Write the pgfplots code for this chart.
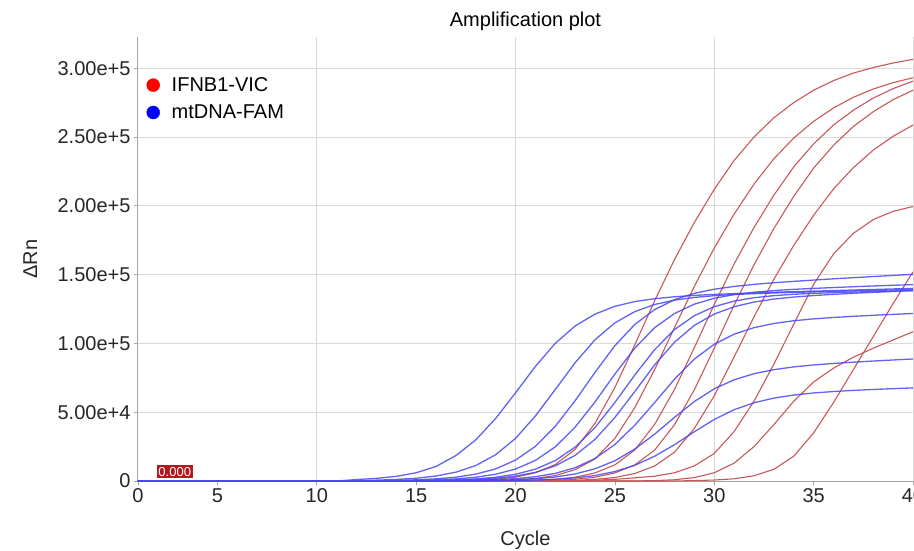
\documentclass[border=0pt]{standalone}
\usepackage{fontspec}
\setmainfont{Liberation Sans}
\usepackage{pgfplots}
\pgfplotsset{compat=1.18}
\definecolor{vicline}{RGB}{200,88,88}
\definecolor{famline}{RGB}{70,70,245}
\definecolor{gridgray}{RGB}{217,217,217}
\definecolor{axisgray}{RGB}{165,165,165}
\definecolor{thrred}{RGB}{178,24,30}
\newcommand{\chartfont}{\fontsize{20}{24}\selectfont}

\begin{document}
\begin{tikzpicture}
\path[use as bounding box] (0,0) rectangle (914pt,550pt);
\begin{axis}[
  at={(138pt,69pt)}, anchor=south west,
  scale only axis, width=775pt, height=444pt,
  xmin=1, xmax=40, ymin=0, ymax=322700,
  axis lines*=left,
  axis line style={-, axisgray, line width=1pt},
  tick align=outside, major tick length=4pt,
  tick style={axisgray, line width=0.8pt},
  xtick={1,5,10,15,20,25,30,35,40},
  xticklabels={0,5,10,15,20,25,30,35,40},
  extra x ticks={10,20,30,40},
  extra x tick labels={},
  extra x tick style={grid=major},
  ytick={0,50000,100000,150000,200000,250000,300000},
  yticklabels={0,5.00e+4,1.00e+5,1.50e+5,2.00e+5,2.50e+5,3.00e+5},
  scaled y ticks=false,
  ymajorgrids=true,
  grid style={gridgray, line width=1pt},
  xticklabel style={font=\chartfont, text=black!85},
  yticklabel style={font=\chartfont, text=black!85},
  title={Amplification plot},
  title style={at={(axis description cs:0.5,1.038)}, anchor=center, yshift=-7pt, font=\chartfont},
  xlabel={Cycle},
  xlabel style={at={(axis description cs:0.5,-0.133)}, anchor=center, font=\chartfont, text=black!85},
  ylabel={ΔRn},
  ylabel style={at={(axis description cs:-0.139,0.5)}, anchor=center, font=\chartfont, text=black!85},
  legend style={at={(axis description cs:0.011,0.914)}, anchor=north west,
    draw=none, fill=none, inner sep=0pt, row sep=8pt, font=\chartfont,
    /tikz/every odd column/.append style={column sep=10pt}},
  legend cell align=left,
  vic/.style={vicline, line width=1.1pt, line join=round, forget plot},
  fam/.style={famline, opacity=0.85, line width=1.3pt, line join=round, forget plot},
]
\addlegendimage{only marks, mark=*, mark size=6.5pt, color=red}
\addlegendimage{only marks, mark=*, mark size=6.5pt, color=blue}
\legend{IFNB1-VIC, mtDNA-FAM}

% IFNB1-VIC
\addplot[vic] coordinates {(1,0)(17,0)(18,600)(19,1300)(20,2800)(21,6000)(22,12000)(23,23000)(24,42000)(25,68000)(26,99000)(27,131000)(28,161000)(29,188000)(30,212000)(31,233000)(32,250000)(33,264000)(34,275000)(35,284000)(36,291000)(37,296500)(38,300500)(39,303800)(40,306500)};
\addplot[vic] coordinates {(1,0)(18,0)(19,410)(20,860)(21,1850)(22,3980)(23,8250)(24,16100)(25,31000)(26,53350)(27,81000)(28,111550)(29,141600)(30,169300)(31,194000)(32,215800)(33,234250)(34,249300)(35,261400)(36,271100)(37,278900)(38,284900)(39,289500)(40,293100)};
\addplot[vic] coordinates {(1,0)(20,0)(21,590)(22,1270)(23,2740)(24,5880)(25,11760)(26,22540)(27,41160)(28,66640)(29,97020)(30,128380)(31,157780)(32,184240)(33,207760)(34,228340)(35,245000)(36,258720)(37,269500)(38,278320)(39,285180)(40,290570)};
\addplot[vic] coordinates {(1,0)(21,0)(22,590)(23,1270)(24,2730)(25,5860)(26,11710)(27,22450)(28,40990)(29,66370)(30,96620)(31,127860)(32,157140)(33,183490)(34,206910)(35,227410)(36,244000)(37,257660)(38,268400)(39,277180)(40,284020)};
\addplot[vic] coordinates {(1,0)(22,0)(23,550)(24,1180)(25,2550)(26,5470)(27,10930)(28,20950)(29,38260)(30,61950)(31,90190)(32,119340)(33,146670)(34,171270)(35,193130)(36,212260)(37,227750)(38,240500)(39,250530)(40,258720)};
\addplot[vic] coordinates {(1,0)(23,0)(24,600)(25,1200)(26,2300)(27,3500)(28,6000)(29,11000)(30,20000)(31,36000)(32,58000)(33,85000)(34,114000)(35,143000)(36,165000)(37,180000)(38,190000)(39,196000)(40,199500)};
\addplot[vic] coordinates {(1,0)(28,0)(29,300)(30,700)(31,1600)(32,3800)(33,8500)(34,18000)(35,35000)(36,57000)(37,81000)(38,105000)(39,129000)(40,152000)};
\addplot[vic] coordinates {(1,0)(26,0)(27,300)(28,900)(29,2500)(30,6000)(31,13000)(32,25000)(33,41000)(34,58000)(35,72000)(36,82000)(37,90000)(38,96500)(39,102500)(40,108500)};

% mtDNA-FAM
\addplot[fam] coordinates {(1,0)(11,0)(12,1050)(13,1900)(14,3400)(15,6000)(16,10600)(17,18500)(18,29900)(19,45500)(20,64100)(21,83300)(22,100100)(23,112700)(24,121300)(25,127000)(26,130400)(27,132500)(28,133900)(29,134900)(30,135600)(31,136200)(32,136700)(33,137200)(34,137600)(35,138000)(36,138400)(37,138800)(38,139200)(39,139600)(40,140000)};
\addplot[fam] coordinates {(1,0)(12,0)(13,620)(14,1130)(15,2020)(16,3640)(17,6450)(18,11270)(19,19100)(20,31000)(21,47300)(22,66500)(23,86050)(24,102700)(25,114950)(26,123100)(27,128300)(28,131450)(29,133430)(30,134670)(31,135520)(32,136150)(33,136660)(34,137100)(35,137450)(36,137800)(37,138150)(38,138500)(39,138850)(40,139200)};
\addplot[fam] coordinates {(1,0)(13,0)(14,480)(15,860)(16,1560)(17,2800)(18,5010)(19,8800)(20,15200)(21,25200)(22,39800)(23,58400)(24,79000)(25,98400)(26,113800)(27,124600)(28,131800)(29,136400)(30,139400)(31,141400)(32,142900)(33,144100)(34,145100)(35,146050)(36,146950)(37,147800)(38,148600)(39,149400)(40,150200)};
\addplot[fam] coordinates {(1,0)(14,0)(15,470)(16,850)(17,1540)(18,2750)(19,4940)(20,8680)(21,15000)(22,24840)(23,39200)(24,57500)(25,77750)(26,96550)(27,111450)(28,121750)(29,128550)(30,132800)(31,135500)(32,137200)(33,138400)(34,139300)(35,139980)(36,140600)(37,141200)(38,141750)(39,142250)(40,142750)};
\addplot[fam] coordinates {(1,0)(15,0)(16,470)(17,840)(18,1530)(19,2730)(20,4900)(21,8620)(22,14870)(23,24660)(24,38930)(25,57080)(26,77050)(27,95520)(28,110090)(29,120180)(30,126730)(31,130750)(32,133220)(33,134720)(34,135710)(35,136380)(36,136880)(37,137300)(38,137700)(39,138050)(40,138350)};
\addplot[fam] coordinates {(1,0)(16,0)(17,610)(18,1100)(19,1980)(20,3560)(21,6300)(22,11000)(23,18670)(24,30290)(25,46200)(26,65000)(27,84390)(28,100910)(29,113130)(30,121350)(31,126700)(32,130040)(33,132220)(34,133700)(35,134790)(36,135660)(37,136420)(38,137100)(39,137750)(40,138400)};
\addplot[fam] coordinates {(1,0)(17,0)(18,540)(19,970)(20,1730)(21,3120)(22,5530)(23,9660)(24,16370)(25,26560)(26,40530)(27,57000)(28,74070)(29,88640)(30,99430)(31,106710)(32,111470)(33,114480)(34,116470)(35,117830)(36,118860)(37,119700)(38,120440)(39,121110)(40,121760)};
\addplot[fam] coordinates {(1,0)(18,0)(19,500)(20,910)(21,1630)(22,2930)(23,5140)(24,8880)(25,14720)(26,23240)(27,34080)(28,46270)(29,57810)(30,67030)(31,73570)(32,78010)(33,80920)(34,82920)(35,84340)(36,85450)(37,86370)(38,87190)(39,87960)(40,88700)};
\addplot[fam] coordinates {(1,0)(19,0)(20,390)(21,710)(22,1260)(23,2270)(24,3990)(25,6880)(26,11410)(27,18010)(28,26410)(29,35840)(30,44740)(31,51840)(32,56870)(33,60260)(34,62480)(35,63990)(36,65040)(37,65860)(38,66530)(39,67130)(40,67680)};

% threshold label
\node[fill=thrred, text=white, font=\fontsize{13}{15}\selectfont, inner xsep=1.5pt, inner ysep=2pt, anchor=south] at (axis cs:2.85,1800) {0.000};
\end{axis}
\end{tikzpicture}
\end{document}
